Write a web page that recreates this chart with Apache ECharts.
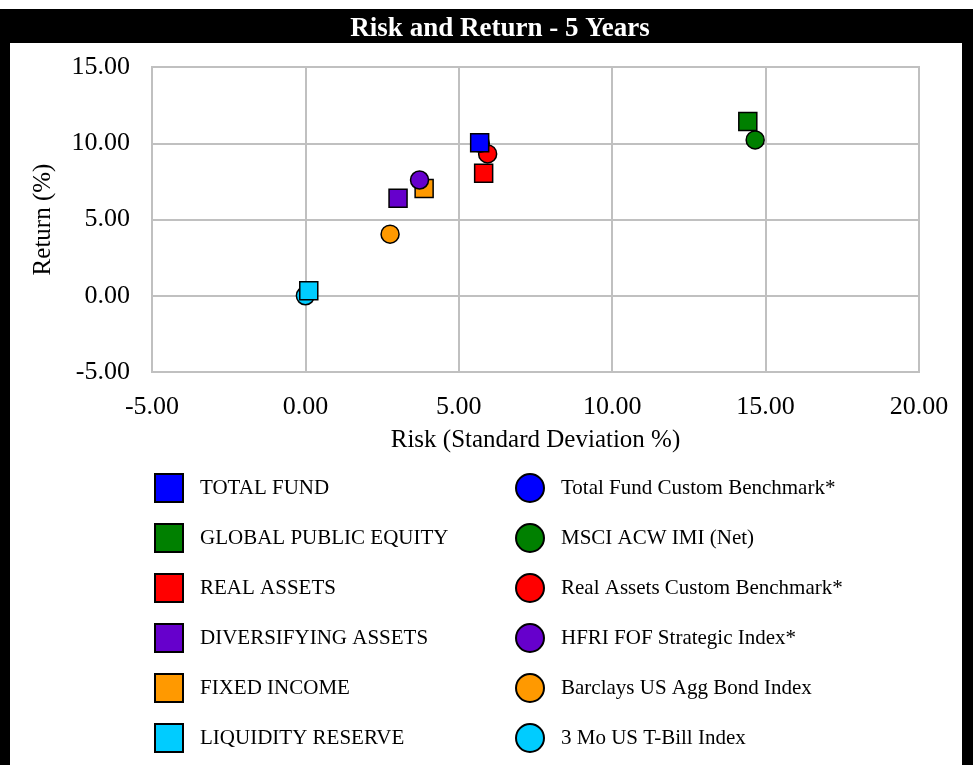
<!DOCTYPE html>
<html>
<head>
<meta charset="utf-8">
<script src="https://cdn.jsdelivr.net/npm/echarts@6/dist/echarts.min.js"></script>
<style>
  html, body { margin: 0; padding: 0; background: #fff; }
  #chart { width: 973px; height: 765px; }
</style>
</head>
<body>
<div id="chart"></div>
<script>
// Portfolio composites and their benchmarks: [risk (std dev %), return %]
const compositeNames = ['TOTAL FUND', 'GLOBAL PUBLIC EQUITY', 'REAL ASSETS', 'DIVERSIFYING ASSETS', 'FIXED INCOME', 'LIQUIDITY RESERVE'];
const benchmarkNames = ['Total Fund Custom Benchmark*', 'MSCI ACW IMI (Net)', 'Real Assets Custom Benchmark*', 'HFRI FOF Strategic Index*', 'Barclays US Agg Bond Index', '3 Mo US T-Bill Index'];
const compositeRisk = [5.68, 14.42, 5.81, 3.02, 3.87, 0.11];
const compositeReturn = [10.04, 11.42, 8.03, 6.39, 7.04, 0.32];
const benchmarkRisk = [5.70, 14.66, 5.94, 3.72, 2.76, 0.00];
const benchmarkReturn = [10.00, 10.22, 9.30, 7.59, 4.04, 0.00];
const pairColors = ['#0000ff', '#008000', '#ff0000', '#6600cc', '#ff9900', '#00ccff'];
// stacking of overlapping markers
const compositeZ = [20, 10, 8, 6, 4, 14];
const benchmarkZ = [12, 11, 7, 9, 3, 13];
const xTicks = [-5, 0, 5, 10, 15, 20];
const yTicks = [-5, 0, 5, 10, 15];

const serif = "'Liberation Serif', 'Times New Roman', serif";
const chart = echarts.init(document.getElementById('chart'));

const series = [];
compositeNames.forEach((name, i) => {
  series.push({
    name, type: 'scatter', symbol: 'rect', symbolSize: 18, z: compositeZ[i],
    itemStyle: { color: pairColors[i], borderColor: '#000', borderWidth: 1.5, opacity: 1 },
    emphasis: { disabled: true },
    data: [[compositeRisk[i], compositeReturn[i]]]
  });
});
benchmarkNames.forEach((name, i) => {
  series.push({
    name, type: 'scatter', symbol: 'circle', symbolSize: 18, z: benchmarkZ[i],
    itemStyle: { color: pairColors[i], borderColor: '#000', borderWidth: 1.5, opacity: 1 },
    emphasis: { disabled: true },
    data: [[benchmarkRisk[i], benchmarkReturn[i]]]
  });
});

const legendBase = {
  orient: 'vertical', top: 468, height: 320, itemWidth: 28, itemHeight: 28, itemGap: 20,
  selectedMode: false,
  itemStyle: { borderColor: '#000', borderWidth: 2 },
  textStyle: { fontFamily: serif, fontSize: 21, color: '#000', padding: [0, 0, 0, 12], lineHeight: 24 }
};

chart.setOption({
  animation: false,
  backgroundColor: '#fff',
  title: {
    text: 'Risk and Return - 5 Years',
    left: 495, top: 11, textAlign: 'center',
    textStyle: { color: '#fff', fontFamily: serif, fontSize: 27, fontWeight: 'bold' }
  },
  graphic: [
    { type: 'rect', z: -1, shape: { x: 0, y: 9, width: 973, height: 34 }, style: { fill: '#000' } },
    { type: 'rect', z: -1, shape: { x: 0, y: 9, width: 10, height: 756 }, style: { fill: '#000' } },
    { type: 'rect', z: -1, shape: { x: 962, y: 9, width: 11, height: 756 }, style: { fill: '#000' } }
  ],
  grid: {
    left: 152, right: 54, top: 67, bottom: 393,
    show: true, borderColor: '#c0c0c0', borderWidth: 2, backgroundColor: 'transparent'
  },
  xAxis: {
    type: 'value', min: -5, max: 20, interval: 5,
    name: 'Risk (Standard Deviation %)', nameLocation: 'middle', nameGap: 56,
    nameTextStyle: { fontFamily: serif, fontSize: 25, color: '#000' },
    axisLine: { show: false },
    axisTick: { show: true, length: 12, customValues: xTicks.slice(1, -1), lineStyle: { color: '#c0c0c0', width: 2 } },
    splitLine: { show: true, lineStyle: { color: '#c0c0c0', width: 2 } },
    axisLabel: { fontFamily: serif, fontSize: 26, color: '#000', margin: 22, formatter: v => v.toFixed(2) }
  },
  yAxis: {
    type: 'value', min: -5, max: 15, interval: 5,
    name: 'Return (%)', nameLocation: 'middle', nameGap: 96,
    nameTextStyle: { fontFamily: serif, fontSize: 25, color: '#000' },
    axisLine: { show: false },
    axisTick: { show: true, length: 12, customValues: yTicks.slice(1, -1), lineStyle: { color: '#c0c0c0', width: 2 } },
    splitLine: { show: true, lineStyle: { color: '#c0c0c0', width: 2 } },
    axisLabel: { fontFamily: serif, fontSize: 26, color: '#000', margin: 22, formatter: v => v.toFixed(2) }
  },
  legend: [
    Object.assign({}, legendBase, { left: 149, icon: 'rect', data: compositeNames }),
    Object.assign({}, legendBase, { left: 510, icon: 'circle', data: benchmarkNames })
  ],
  series
});
</script>
</body>
</html>
